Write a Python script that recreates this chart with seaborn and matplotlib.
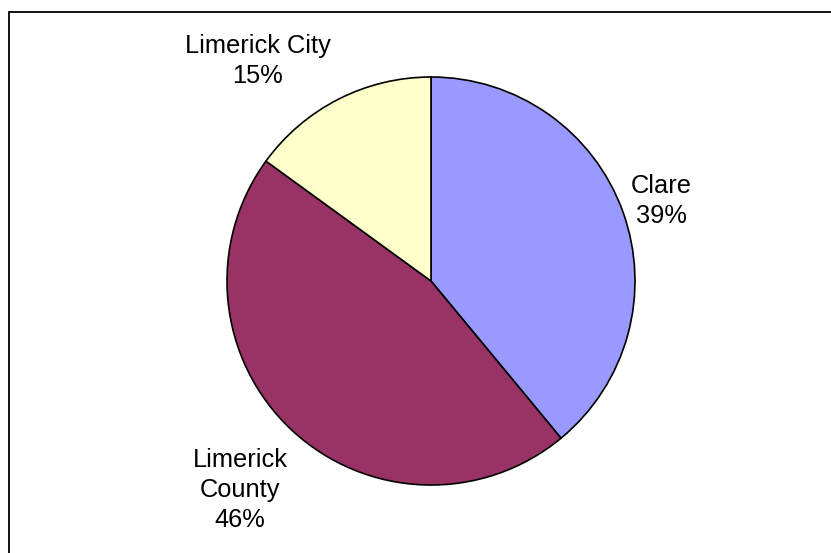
import matplotlib
matplotlib.use("Agg")
import matplotlib.pyplot as plt
import seaborn as sns
from matplotlib.patches import Rectangle

# Share of respondents by area
areas = ["Clare", "Limerick County", "Limerick City"]
shares = [39, 46, 15]
label_texts = ["Clare", "Limerick\nCounty", "Limerick City"]
slice_colors = ["#9999FF", "#993366", "#FFFFCC"]

sns.set_theme(style="white")
plt.rcParams["font.family"] = ["Liberation Sans", "DejaVu Sans"]

W, H = 831, 553
fig = plt.figure(figsize=(W / 100, H / 100), dpi=100)
ax = fig.add_axes([0, 0, 1, 1])

# Chart frame (open to the right and bottom edges)
fig.patches.append(Rectangle((8.5 / W, -0.05), 1.2, (H - 12) / H + 0.05,
                             transform=fig.transFigure, fill=False,
                             edgecolor="black", linewidth=1.3))

cx, cy, r = 431, H - 281, 204
ax.pie(shares, colors=slice_colors, startangle=90, counterclock=False,
       center=(cx, cy), radius=r, frame=True,
       wedgeprops=dict(edgecolor="black", linewidth=1.2))
ax.set_xlim(0, W)
ax.set_ylim(0, H)
ax.set_aspect("equal")
ax.axis("off")

# Label placements in pixel coordinates (x, y from top)
label_pos = [(661, 201), (240, 490), (258, 61)]
for text, val, (x, y) in zip(label_texts, shares, label_pos):
    ax.text(x, H - y, f"{text}\n{val}%", ha="center", va="center",
            fontsize=18.3, color="black", linespacing=1.3)

fig.savefig("out.png", dpi=100, facecolor="white")
